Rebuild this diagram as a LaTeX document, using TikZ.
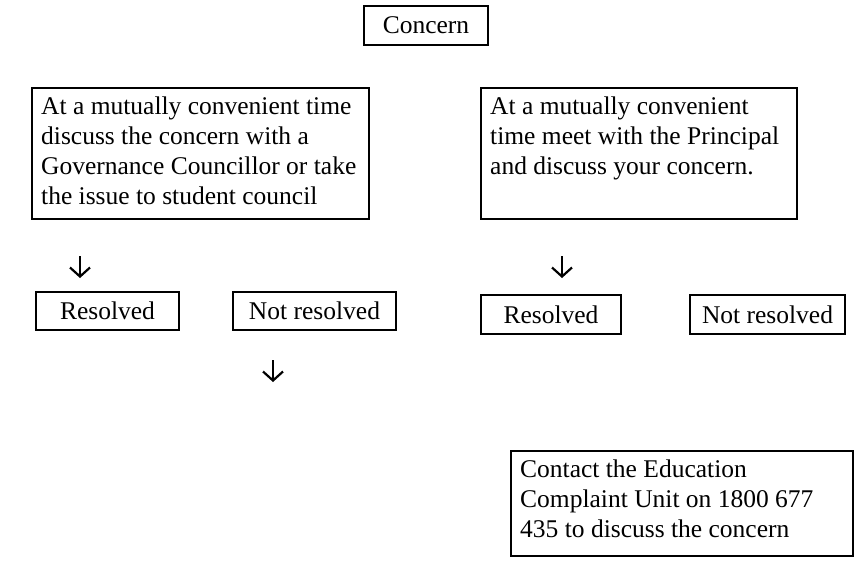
\documentclass[tikz,border=0pt]{standalone}
\usepackage{fontspec}
\setmainfont{Liberation Serif}
\usetikzlibrary{arrows.meta}
\begin{document}
\begin{tikzpicture}[x=1pt,y=-1pt,
  box/.style={draw, line width=2.4pt, inner sep=0pt, font=\fontsize{25.5}{30}\selectfont},
  bigbox/.style={box, anchor=north west, inner sep=9pt},
  glypharrow/.style={line width=2.2pt, -{Straight Barb[length=9pt,width=20pt,line width=2.2pt]}}]
\useasboundingbox (0,0) rectangle (868,560);
\node[box, minimum width=124pt, minimum height=39pt] (concern) at (426,25.5) {Concern};
\node[bigbox] (left) at (31,87)
  {\parbox[c][113pt][t]{319pt}{\raggedright At a mutually convenient time\\discuss the concern with a\\Governance Councillor or take\\the issue to student council}};
\node[bigbox] (right) at (480,87)
  {\parbox[c][113pt][t]{298pt}{\raggedright At a mutually convenient\\time meet with the Principal\\and discuss your concern.}};
\coordinate (a1s) at (80,256); \coordinate (a1e) at (80,278);
\coordinate (a2s) at (562,256); \coordinate (a2e) at (562,278);
\coordinate (a3s) at (273,360); \coordinate (a3e) at (273,382);
\draw[glypharrow] (a1s) -- (a1e);
\draw[glypharrow] (a2s) -- (a2e);
\draw[glypharrow] (a3s) -- (a3e);
\node[box, minimum width=143pt, minimum height=38pt] (res1) at (107.5,311) {Resolved};
\node[box, minimum width=163pt, minimum height=38pt] (nres1) at (314.5,311) {Not resolved};
\node[box, minimum width=140pt, minimum height=39pt] (res2) at (551,314.5) {Resolved};
\node[box, minimum width=155pt, minimum height=39pt] (nres2) at (767.5,314.5) {Not resolved};
\node[bigbox] (contact) at (510,450)
  {\parbox[c][87pt][t]{324pt}{\raggedright Contact the Education\\Complaint Unit on 1800 677\\435 to discuss the concern}};
\end{tikzpicture}
\end{document}
